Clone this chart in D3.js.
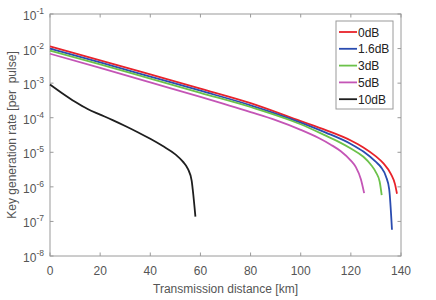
<!DOCTYPE html>
<html>
<head>
<meta charset="utf-8">
<script src="https://cdn.jsdelivr.net/npm/d3@7"></script>
<style>
  body { margin: 0; background: #fff; }
  text { font-family: "Liberation Sans", Arial, sans-serif; }
</style>
</head>
<body>
<script>
// Data (distance in km, key rate per pulse)
const dist0dB = [0, 20, 40, 60, 80, 100, 110, 120, 125, 130, 133, 136, 137.6, 138.4];
const rate0dB = [1.15e-2, 4.57e-3, 1.78e-3, 6.92e-4, 2.63e-4, 7.94e-5, 4.37e-5, 2.19e-5, 1.38e-5, 7.59e-6, 4.79e-6, 2.34e-6, 1.20e-6, 6.31e-7];

const dist1p6dB = [0, 20, 40, 60, 80, 100, 110, 120, 125, 130, 132, 134, 135.3, 136.4];
const rate1p6dB = [1.0e-2, 3.98e-3, 1.55e-3, 6.03e-4, 2.29e-4, 7.24e-5, 3.72e-5, 1.74e-5, 1.05e-5, 5.25e-6, 3.72e-6, 2.0e-6, 8.51e-7, 5.75e-8];

const dist3dB = [0, 20, 40, 60, 80, 100, 110, 115, 120, 125, 128, 130, 131.5, 132.3];
const rate3dB = [8.71e-3, 3.47e-3, 1.35e-3, 5.25e-4, 2.04e-4, 6.46e-5, 3.02e-5, 2.04e-5, 1.29e-5, 7.41e-6, 4.37e-6, 2.63e-6, 1.41e-6, 5.75e-7];

const dist5dB = [0, 20, 40, 60, 80, 90, 100, 107, 112, 116, 120, 122, 124, 125.3];
const rate5dB = [7.08e-3, 2.75e-3, 1.05e-3, 3.98e-4, 1.45e-4, 8.51e-5, 4.47e-5, 2.63e-5, 1.66e-5, 1.07e-5, 5.75e-6, 3.72e-6, 1.66e-6, 6.61e-7];

const dist10dB = [0, 5, 10, 15, 20, 25, 30, 35, 40, 45, 50, 53, 55, 56.5, 57, 58];
const rate10dB = [9.12e-4, 5.01e-4, 2.88e-4, 1.78e-4, 1.23e-4, 8.51e-5, 5.75e-5, 3.80e-5, 2.45e-5, 1.51e-5, 8.71e-6, 5.37e-6, 3.31e-6, 1.51e-6, 7.59e-7, 1.38e-7];

const seriesNames = ["0dB", "1.6dB", "3dB", "5dB", "10dB"];
const xTicks = [0, 20, 40, 60, 80, 100, 120, 140];
const yExponents = [-1, -2, -3, -4, -5, -6, -7, -8];

const colors = ["#e8222a", "#2a4cb0", "#6cc24a", "#c455b6", "#1e1e1e"];

const series = [
  {name: seriesNames[0], x: dist0dB, y: rate0dB},
  {name: seriesNames[1], x: dist1p6dB, y: rate1p6dB},
  {name: seriesNames[2], x: dist3dB, y: rate3dB},
  {name: seriesNames[3], x: dist5dB, y: rate5dB},
  {name: seriesNames[4], x: dist10dB, y: rate10dB}
];

const width = 436, height = 300;
const margin = {top: 14, right: 35, bottom: 44, left: 50};
const innerW = width - margin.left - margin.right;
const innerH = height - margin.top - margin.bottom;

const svg = d3.select("body").append("svg")
  .attr("width", width)
  .attr("height", height);

const g = svg.append("g")
  .attr("transform", `translate(${margin.left},${margin.top})`);

const x = d3.scaleLinear().domain([0, 140]).range([0, innerW]);
const y = d3.scaleLog().domain([1e-8, 1e-1]).range([innerH, 0]);

const axisColor = "#9a9a9a";
const labelColor = "#555";

// plot box
g.append("rect")
  .attr("width", innerW).attr("height", innerH)
  .attr("fill", "none").attr("stroke", axisColor).attr("stroke-width", 1);

// x ticks (bottom + top, inward)
xTicks.forEach(t => {
  g.append("line").attr("x1", x(t)).attr("x2", x(t))
    .attr("y1", innerH).attr("y2", innerH - 3.5)
    .attr("stroke", axisColor);
  g.append("line").attr("x1", x(t)).attr("x2", x(t))
    .attr("y1", 0).attr("y2", 3.5)
    .attr("stroke", axisColor);
  g.append("text")
    .attr("x", x(t)).attr("y", innerH + 19)
    .attr("text-anchor", "middle")
    .attr("font-size", 12).attr("fill", labelColor)
    .text(t);
});

// y ticks (left + right, inward)
yExponents.forEach(e => {
  const yy = y(Math.pow(10, e));
  g.append("line").attr("x1", 0).attr("x2", 3.5)
    .attr("y1", yy).attr("y2", yy).attr("stroke", axisColor);
  g.append("line").attr("x1", innerW).attr("x2", innerW - 3.5)
    .attr("y1", yy).attr("y2", yy).attr("stroke", axisColor);
  const t = g.append("text")
    .attr("x", -6).attr("y", yy + 6)
    .attr("text-anchor", "end")
    .attr("font-size", 12).attr("fill", labelColor);
  t.append("tspan").text("10");
  t.append("tspan").attr("dy", -6).attr("font-size", 8.5).text(e);
});

// curves
const line = d3.line()
  .x(d => x(d[0]))
  .y(d => y(d[1]))
  .curve(d3.curveMonotoneX);

series.forEach((s, i) => {
  const pts = s.x.map((v, j) => [v, s.y[j]]);
  g.append("path")
    .datum(pts)
    .attr("fill", "none")
    .attr("stroke", colors[i])
    .attr("stroke-width", 1.8)
    .attr("d", line);
});

// axis titles
svg.append("text")
  .attr("x", margin.left + innerW / 2)
  .attr("y", 293)
  .attr("text-anchor", "middle")
  .attr("font-size", 12).attr("fill", labelColor)
  .text("Transmission distance [km]");

svg.append("text")
  .attr("transform", `translate(16,${margin.top + innerH / 2}) rotate(-90)`)
  .attr("text-anchor", "middle")
  .attr("font-size", 12).attr("fill", labelColor)
  .attr("xml:space", "preserve")
  .text("Key generation rate [per  pulse]");

// legend
const legend = svg.append("g").attr("transform", "translate(336,21)");
legend.append("rect")
  .attr("width", 57).attr("height", 88)
  .attr("fill", "#fff").attr("stroke", axisColor);

series.forEach((s, i) => {
  const ly = 11 + i * 16.8;
  legend.append("line")
    .attr("x1", 3).attr("x2", 21)
    .attr("y1", ly).attr("y2", ly)
    .attr("stroke", colors[i]).attr("stroke-width", 1.8);
  legend.append("text")
    .attr("x", 22).attr("y", ly + 4.5)
    .attr("font-size", 12).attr("fill", "#222")
    .text(s.name);
});
</script>
</body>
</html>
